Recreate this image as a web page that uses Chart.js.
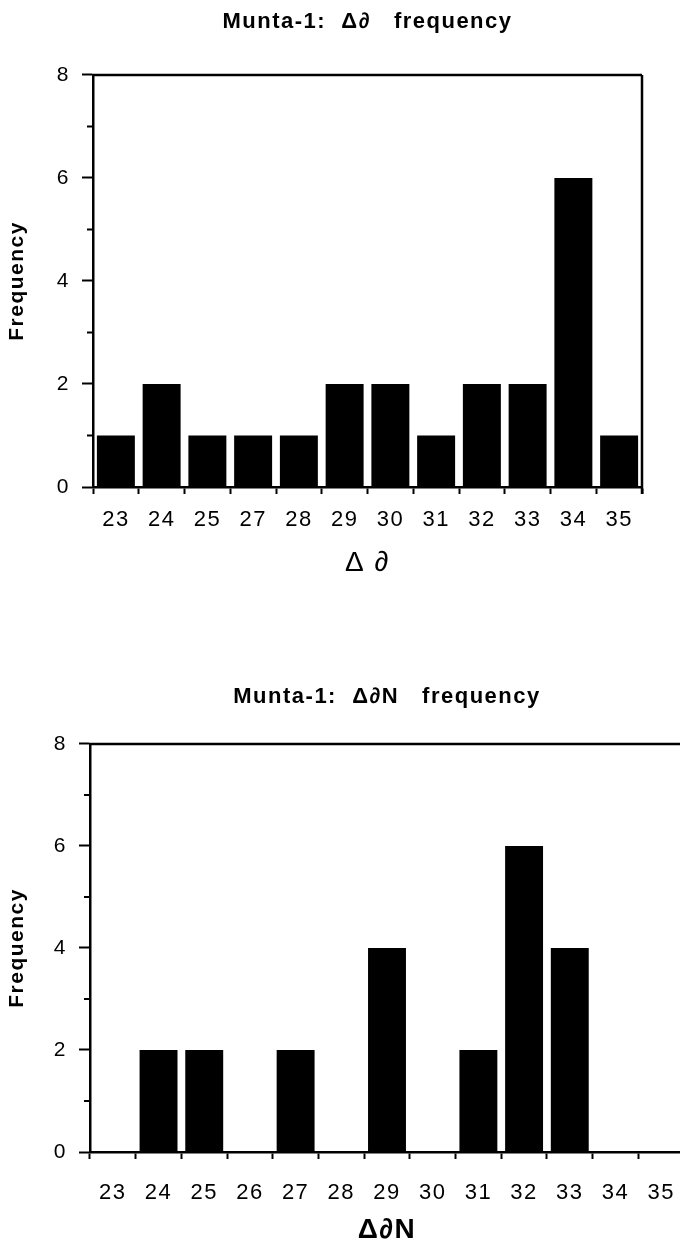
<!DOCTYPE html>
<html>
<head>
<meta charset="utf-8">
<script src="https://cdn.jsdelivr.net/npm/chart.js@4/dist/chart.umd.min.js"></script>
<style>
html, body { margin: 0; padding: 0; background: #fff; overflow: hidden; width: 680px; height: 1247px; }
canvas { position: absolute; left: 0; }
#deltaChart { top: 0; }
#deltaNChart { top: 660px; }
</style>
</head>
<body>
<canvas id="deltaChart" width="680" height="610"></canvas>
<canvas id="deltaNChart" width="720" height="587"></canvas>
<script>
// Munta-1 frequency counts
const deltaLabels = ['23', '24', '25', '27', '28', '29', '30', '31', '32', '33', '34', '35'];
const deltaCounts = [1, 2, 1, 1, 1, 2, 2, 1, 2, 2, 6, 1];

const deltaNLabels = ['23', '24', '25', '26', '27', '28', '29', '30', '31', '32', '33', '34', '35'];
const deltaNCounts = [0, 2, 2, 0, 2, 0, 4, 0, 2, 6, 4, 0, 0];

const yMax = 8;
const yStep = 2;
const yMinorTicks = [1, 3, 5, 7];

const FONT = "'Liberation Sans', Arial, Helvetica, sans-serif";

// slightly spaced lettering for all chart text
const spacingPlugin = {
  id: 'spacing',
  beforeDraw(chart) { chart.ctx.letterSpacing = '1.5px'; },
  afterDraw(chart) { chart.ctx.letterSpacing = '0px'; }
};

// top/right frame lines + short minor ticks on the y axis
const framePlugin = {
  id: 'frame',
  afterDraw(chart, args, opts) {
    const { ctx, chartArea: a, scales: { y } } = chart;
    ctx.save();
    ctx.strokeStyle = '#000';
    ctx.lineWidth = 2.5;
    ctx.beginPath();
    ctx.moveTo(a.left - 1, a.top);
    ctx.lineTo(a.right, a.top);
    if (opts.right) {
      ctx.moveTo(a.right, a.top);
      ctx.lineTo(a.right, a.bottom + 7);
    }
    ctx.stroke();
    ctx.lineWidth = 2;
    ctx.beginPath();
    for (const v of yMinorTicks) {
      const py = y.getPixelForValue(v);
      ctx.moveTo(a.left - 6, py);
      ctx.lineTo(a.left, py);
    }
    ctx.stroke();
    ctx.restore();
  }
};

function histChart(id, labels, counts, cfg) {
  return new Chart(document.getElementById(id), {
    type: 'bar',
    data: {
      labels,
      datasets: [{
        data: counts,
        backgroundColor: '#000',
        borderWidth: 0,
        barPercentage: 0.83,
        categoryPercentage: 1
      }]
    },
    plugins: [spacingPlugin, framePlugin],
    options: {
      responsive: false,
      animation: false,
      layout: { padding: { left: 0, right: cfg.padRight, top: 0, bottom: 0 } },
      plugins: {
        legend: { display: false },
        tooltip: { enabled: false },
        title: {
          display: true,
          text: cfg.title,
          fullSize: false,
          color: '#000',
          font: { family: FONT, size: 22, weight: 'bold' },
          padding: cfg.titlePad
        },
        frame: { right: cfg.boxRight }
      },
      scales: {
        x: {
          grid: { drawOnChartArea: false, offset: true, tickLength: 7, tickWidth: 2, tickColor: '#000' },
          border: { color: '#000', width: 2.5 },
          ticks: { color: '#000', font: { family: FONT, size: 22 }, padding: cfg.xTickPad, maxRotation: 0, autoSkip: false },
          title: {
            display: true,
            text: cfg.xTitle,
            color: '#000',
            font: { family: FONT, size: 28, weight: cfg.xTitleWeight },
            padding: { top: 0, bottom: cfg.xTitlePad }
          },
          afterFit: s => { s.height = cfg.xHeight; }
        },
        y: {
          min: 0,
          max: yMax,
          ticks: { stepSize: yStep, color: '#000', font: { family: FONT, size: 21 }, padding: 12 },
          grid: { drawOnChartArea: false, tickLength: 11, tickWidth: 2, tickColor: '#000' },
          border: { color: '#000', width: 2.5 },
          title: {
            display: true,
            text: 'Frequency',
            color: '#000',
            font: { family: FONT, size: 21, weight: 'bold' },
            padding: { top: 5, bottom: 0 }
          },
          afterFit: s => { s.width = cfg.yWidth; }
        }
      }
    }
  });
}

histChart('deltaChart', deltaLabels, deltaCounts, {
  title: 'Munta-1:  Δ∂   frequency',
  xTitle: 'Δ ∂',
  xTitleWeight: 'normal',
  titlePad: { top: 9, bottom: 39.5 },
  padRight: 38,
  yWidth: 93,
  xHeight: 123,
  xTickPad: 13,
  xTitlePad: 30,
  boxRight: true
});

histChart('deltaNChart', deltaNLabels, deltaNCounts, {
  title: 'Munta-1:  Δ∂N   frequency',
  xTitle: 'Δ∂N',
  xTitleWeight: 'bold',
  titlePad: { top: 23.5, bottom: 34 },
  padRight: 36,
  yWidth: 90,
  xHeight: 95,
  xTickPad: 21,
  xTitlePad: 0,
  boxRight: false
});
</script>
</body>
</html>
